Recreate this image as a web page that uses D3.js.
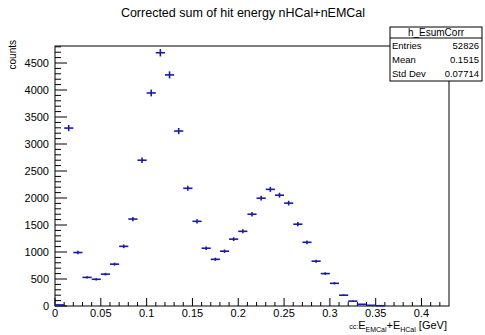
<!DOCTYPE html>
<html>
<head>
<meta charset="utf-8">
<script src="https://cdn.jsdelivr.net/npm/d3@7"></script>
<style>
  body { margin: 0; background: #fff; }
  svg { display: block; font-family: "Liberation Sans", Arial, sans-serif; }
</style>
</head>
<body>
<div id="chart"></div>
<script>
const WIDTH = 485;
const HEIGHT = 335;

// bin centres (bin width 0.01 GeV) and counts
const binCenters = [0.005, 0.015, 0.025, 0.035, 0.045, 0.055, 0.065, 0.075, 0.085, 0.095,
  0.105, 0.115, 0.125, 0.135, 0.145, 0.155, 0.165, 0.175, 0.185, 0.195,
  0.205, 0.215, 0.225, 0.235, 0.245, 0.255, 0.265, 0.275, 0.285, 0.295,
  0.305, 0.315, 0.325, 0.335, 0.345, 0.355];
const counts = [20, 3295, 990, 530, 495, 590, 775, 1105, 1610, 2700,
  3945, 4690, 4280, 3240, 2180, 1568, 1070, 865, 1015, 1238,
  1383, 1700, 1997, 2160, 2052, 1905, 1515, 1180, 830, 600,
  420, 200, 90, 32, 13, 5];
const BIN_WIDTH = 0.01;

const xTickLabels = [0, 0.05, 0.1, 0.15, 0.2, 0.25, 0.3, 0.35, 0.4];
const yTickLabels = [0, 500, 1000, 1500, 2000, 2500, 3000, 3500, 4000, 4500];

const statNames = ["Entries", "Mean", "Std Dev"];
const statValues = ["52826", "0.1515", "0.07714"];

const FRAME = { LEFT: 55, RIGHT: 449, TOP: 46, BOTTOM: 306 };
const MARKER = "#1a1aa8";

const svg = d3.select('#chart')
    .append('svg')
    .attr('width', WIDTH)
    .attr('height', HEIGHT);

const x = d3.scaleLinear()
    .domain([0, 0.43])
    .range([FRAME.LEFT, FRAME.RIGHT]);

const y = d3.scaleLinear()
    .domain([0, 4815])
    .range([FRAME.BOTTOM, FRAME.TOP]);

// frame
svg.append('rect')
    .attr('x', FRAME.LEFT)
    .attr('y', FRAME.TOP)
    .attr('width', FRAME.RIGHT - FRAME.LEFT)
    .attr('height', FRAME.BOTTOM - FRAME.TOP)
    .attr('fill', 'none')
    .attr('stroke', '#000')
    .attr('stroke-width', 1);

// x axis: major every 0.05, minor every 0.01
const xMinor = d3.range(0, 0.43, 0.01).filter(v => Math.abs(Math.round(v / 0.05) * 0.05 - v) > 1e-6);
const xAxisG = svg.append('g');
xAxisG.selectAll('line.major')
    .data(xTickLabels)
    .enter().append('line')
    .attr('x1', d => x(d)).attr('x2', d => x(d))
    .attr('y1', FRAME.BOTTOM).attr('y2', FRAME.BOTTOM - 8)
    .attr('stroke', '#000');
xAxisG.selectAll('line.minor')
    .data(xMinor)
    .enter().append('line')
    .attr('x1', d => x(d)).attr('x2', d => x(d))
    .attr('y1', FRAME.BOTTOM).attr('y2', FRAME.BOTTOM - 4)
    .attr('stroke', '#000');
xAxisG.selectAll('text')
    .data(xTickLabels)
    .enter().append('text')
    .attr('x', d => x(d))
    .attr('y', FRAME.BOTTOM + 11)
    .attr('text-anchor', 'middle')
    .attr('font-size', 11)
    .text(d => d3.format('')(d));

// y axis: major every 500, minor every 100
const yMinor = d3.range(0, 4815, 100).filter(v => v % 500 !== 0);
const yAxisG = svg.append('g');
yAxisG.selectAll('line.major')
    .data(yTickLabels)
    .enter().append('line')
    .attr('x1', FRAME.LEFT).attr('x2', FRAME.LEFT + 12)
    .attr('y1', d => y(d)).attr('y2', d => y(d))
    .attr('stroke', '#000');
yAxisG.selectAll('line.minor')
    .data(yMinor)
    .enter().append('line')
    .attr('x1', FRAME.LEFT).attr('x2', FRAME.LEFT + 6)
    .attr('y1', d => y(d)).attr('y2', d => y(d))
    .attr('stroke', '#000');
yAxisG.selectAll('text')
    .data(yTickLabels)
    .enter().append('text')
    .attr('x', FRAME.LEFT - 6)
    .attr('y', d => y(d) + 4)
    .attr('text-anchor', 'end')
    .attr('font-size', 11)
    .text(d => d);

// histogram points with sqrt(N) error bars
const points = svg.append('g')
    .attr('stroke', MARKER)
    .attr('stroke-width', 1.6);
const bins = binCenters.map((c, i) => ({ c: c, n: counts[i] }));
points.selectAll('line.h')
    .data(bins)
    .enter().append('line')
    .attr('x1', d => x(d.c - BIN_WIDTH / 2))
    .attr('x2', d => x(d.c + BIN_WIDTH / 2))
    .attr('y1', d => y(d.n)).attr('y2', d => y(d.n));
points.selectAll('line.v')
    .data(bins)
    .enter().append('line')
    .attr('x1', d => x(d.c)).attr('x2', d => x(d.c))
    .attr('y1', d => y(Math.max(0, d.n - Math.sqrt(d.n))))
    .attr('y2', d => y(d.n + Math.sqrt(d.n)));

// title
svg.append('text')
    .attr('x', 243)
    .attr('y', 17)
    .attr('text-anchor', 'middle')
    .attr('font-size', 12.5)
    .text('Corrected sum of hit energy nHCal+nEMCal');

// y label
svg.append('text')
    .attr('transform', `translate(16, 40) rotate(-90)`)
    .attr('text-anchor', 'end')
    .attr('font-size', 10)
    .text('counts');

// x label
const xl = svg.append('text')
    .attr('x', FRAME.RIGHT - 2)
    .attr('y', 329)
    .attr('text-anchor', 'end')
    .attr('font-size', 11);
xl.append('tspan').attr('font-size', 7).text('cc:');
xl.append('tspan').text('E');
xl.append('tspan').attr('font-size', 7).attr('dy', 2.5).text('EMCal');
xl.append('tspan').attr('dy', -2.5).text('+E');
xl.append('tspan').attr('font-size', 7).attr('dy', 2.5).text('HCal');
xl.append('tspan').attr('dy', -2.5).text(' [GeV]');

// stats box
const BOX = { x: 390, y: 27, w: 92, h: 54 };
const stats = svg.append('g');
stats.append('rect')
    .attr('x', BOX.x).attr('y', BOX.y)
    .attr('width', BOX.w).attr('height', BOX.h)
    .attr('fill', '#fff')
    .attr('stroke', '#000')
    .attr('stroke-width', 1);
stats.append('line')
    .attr('x1', BOX.x).attr('x2', BOX.x + BOX.w)
    .attr('y1', BOX.y + 11).attr('y2', BOX.y + 11)
    .attr('stroke', '#000');
stats.append('text')
    .attr('x', BOX.x + BOX.w / 2)
    .attr('y', BOX.y + 9)
    .attr('text-anchor', 'middle')
    .attr('font-size', 10)
    .text('h_EsumCorr');
statNames.forEach(function (name, i) {
    const ty = BOX.y + 22 + i * 14;
    stats.append('text')
        .attr('x', BOX.x + 2).attr('y', ty)
        .attr('font-size', 9.5)
        .text(name);
    stats.append('text')
        .attr('x', BOX.x + BOX.w - 3).attr('y', ty)
        .attr('text-anchor', 'end')
        .attr('font-size', 9.5)
        .text(statValues[i]);
});
</script>
</body>
</html>
